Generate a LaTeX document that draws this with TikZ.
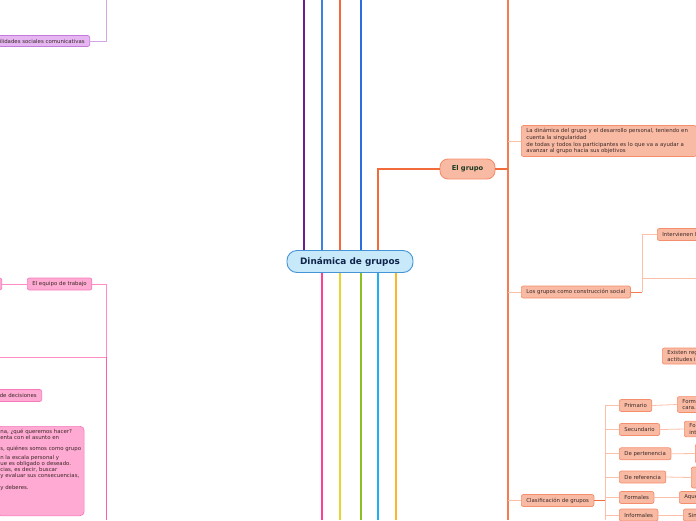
\documentclass[tikz,border=0pt]{standalone}
\usepackage{fontspec}
\setmainfont{DejaVu Sans}
\usetikzlibrary{positioning}

\definecolor{rootfill}{HTML}{C7E9FA}
\definecolor{rootline}{HTML}{4595D6}
\definecolor{roottext}{HTML}{10244A}
\definecolor{texto}{HTML}{3A2A26}
\definecolor{textogrupo}{HTML}{1E3B22}
\definecolor{naranja}{HTML}{F26B3A}
\definecolor{naranjaeje}{HTML}{F77B4F}
\definecolor{naranjafill}{HTML}{F9BAA4}
\definecolor{naranjaborde}{HTML}{F58E6C}
\definecolor{naranjaclaro}{HTML}{FCBFA8}
\definecolor{rosa}{HTML}{FF3F8F}
\definecolor{rosafill}{HTML}{FFAAD3}
\definecolor{rosaborde}{HTML}{F67ABA}
\definecolor{rosaclaro}{HTML}{FF8CC4}
\definecolor{rosamedio}{HTML}{FF5FA8}
\definecolor{morado}{HTML}{6B1E8C}
\definecolor{moradofill}{HTML}{E6B6F3}
\definecolor{moradoborde}{HTML}{C47AD8}
\definecolor{moradoclaro}{HTML}{D3A6E2}
\definecolor{azul}{HTML}{3B80E2}
\definecolor{azuloscuro}{HTML}{2C6EE0}
\definecolor{naranjarama}{HTML}{F5683A}
\definecolor{amarillo}{HTML}{E6D62C}
\definecolor{verde}{HTML}{8CC01E}
\definecolor{celeste}{HTML}{1DB0F2}
\definecolor{dorado}{HTML}{FFB52A}

\begin{document}
\begin{tikzpicture}[x=1pt, y=-1pt,
  every node/.style={font=\fontsize{5.4}{6.8}\selectfont, text=texto},
  raiz/.style={draw=rootline, fill=rootfill, line width=0.9pt, rounded corners=10pt,
    minimum width=126pt, minimum height=22pt, text=roottext,
    font=\fontsize{8.9}{10}\selectfont\bfseries},
  tema/.style={draw=naranjaborde, fill=naranjafill, line width=0.9pt, rounded corners=8pt,
    minimum width=55pt, minimum height=20pt, text=textogrupo,
    font=\fontsize{6.7}{8}\selectfont\bfseries},
  caja/.style={draw=naranjaborde, fill=naranjafill, line width=0.7pt, rounded corners=2pt,
    inner xsep=5pt, inner ysep=1.5pt, minimum height=12pt, anchor=west},
  nota/.style={caja, align=left, inner ysep=2.5pt},
  cajarosa/.style={caja, draw=rosaborde, fill=rosafill},
  cajamorada/.style={caja, draw=moradoborde, fill=moradofill, minimum height=11pt},
  rama/.style={line width=1.3pt},
  hilo/.style={line width=0.8pt, naranjaclaro},
]
  \useasboundingbox (0,0) rectangle (696,520);
  \clip (0,0) rectangle (696,520);

  % nodo central
  \node[raiz] (raiz) at (350,261.5) {Dinámica de grupos};

  % ramas que salen hacia arriba y hacia abajo
  \foreach \x/\c in {304/morado, 322/azul, 340/naranjarama, 361/azuloscuro} {
    \coordinate (arriba\x) at (\x,0);
    \draw[rama, \c] (raiz.north -| arriba\x) -- (arriba\x);
  }
  \foreach \x/\c in {322/rosa, 340/amarillo, 361/verde, 378/celeste, 396/dorado} {
    \coordinate (abajo\x) at (\x,520);
    \draw[rama, \c] (raiz.south -| abajo\x) -- (abajo\x);
  }

  % El grupo
  \coordinate (arriba378) at (378,0);
  \node[tema] (grupo) at (467.5,169) {El grupo};
  \draw[rama, naranja] (raiz.north -| arriba378) |- (grupo.west);

  \coordinate (ejeA) at (508,0);
  \coordinate (ejeB) at (508,520);
  \draw[line width=1.6pt, naranjaeje] (ejeA) -- (ejeB);
  \draw[rama, naranja] (grupo.east) -- (grupo.east -| ejeA);

  \node[nota, text width=165pt] (singular) at (521,141)
    {La dinámica del grupo y el desarrollo personal, teniendo en\\cuenta la singularidad\\de todas y todos los participantes es lo que va a ayudar a\\avanzar al grupo hacia sus objetivos};
  \draw[hilo] (singular.west -| ejeA) -- (singular.west);

  % construcción social
  \node[caja] (social) at (521,292) {Los grupos como construcción social};
  \draw[hilo] (social.west -| ejeA) -- (social.west);
  \coordinate (sj) at (642,0);
  \coordinate (fueraA) at (700,278);
  \node[caja, text width=50pt, align=left] (intervienen) at (657,234.5) {Intervienen l};
  \draw[line width=1pt, naranjaeje] (social.east) -- (social.east -| sj);
  \draw[hilo] (social.east -| sj) |- (intervienen.west);
  \draw[hilo] (social.east -| sj) |- (fueraA);

  \node[nota, anchor=north west, text width=40pt] (reglas) at (662,347.7) {Existen reg\\actitudes i};

  % clasificación
  \node[caja] (clasif) at (521,500.5) {Clasificación de grupos};
  \draw[hilo] (clasif.west -| ejeA) -- (clasif.west);
  \coordinate (cj) at (605,520);
  \draw[rama, naranja] (clasif.east) -- (clasif.east -| cj);

  \foreach \n/\y/\t in {primario/405.5/Primario, secundario/429.5/Secundario,
      pertenencia/453.8/De pertenencia, referencia/477/De referencia,
      formales/497.5/Formales, informales/515/Informales}
    \node[caja] (\n) at (619,\y) {\t};
  \draw[hilo] (primario.west -| cj) -- (cj);
  \foreach \n in {primario, secundario, pertenencia, referencia, formales, informales}
    \draw[hilo] (\n.west -| cj) -- (\n.west);

  \node[nota, text width=30pt] (forma) at (677,404.5) {Forma\\cara.};
  \node[nota, text width=30pt] (fo) at (684,429) {Fo\\int};
  \node[nota, text width=30pt, minimum height=19pt] (pert2) at (695,453.5) {};
  \node[nota, text width=30pt, minimum height=21pt] (ref2) at (691,477.5) {};
  \node[caja, text width=30pt, align=left] (aque) at (679,497.5) {Aque};
  \node[caja, text width=30pt, align=left] (sin) at (683,515) {Sin};
  \foreach \a/\b in {primario/forma, secundario/fo, pertenencia/pert2,
      referencia/ref2, formales/aque, informales/sin}
    \draw[hilo] (\a.east) -- (\b.west);

  % lado izquierdo
  \node[cajamorada, anchor=east] (habil) at (90,41) {Habilidades sociales comunicativas};
  \coordinate (pj) at (106,0);
  \draw[line width=0.8pt, moradoclaro] (habil.east) -| (pj);

  \node[cajarosa] (equipo) at (27,284) {El equipo de trabajo};
  \node[cajarosa, anchor=east, minimum width=40pt] (previo) at (2,284) {};
  \draw[line width=0.8pt, rosaclaro] (previo.east) -- (equipo.west);
  \coordinate (fueraB) at (-5,357.3);
  \coordinate (kj) at (106,520);
  \draw[line width=0.8pt, rosaclaro] (equipo.east) -| (fueraB -| kj);
  \draw[line width=0.8pt, rosaclaro] (fueraB) -- (fueraB -| kj);
  \draw[line width=0.8pt, rosamedio] (fueraB -| kj) -- (kj);

  \node[cajarosa, anchor=east] (decisiones) at (42,395.5) {Toma de decisiones};

  \node[cajarosa, anchor=north west, align=left, inner xsep=3pt, inner ysep=3pt,
    rounded corners=4pt, font=\fontsize{5.4}{6}\selectfont] (preguntas) at (-3,426)
    {na, ¿qué queremos hacer?\\enta con el asunto en\\[5pt]s, quiénes somos como grupo\\[3pt]n la escala personal y\\ue es obligado o deseado.\\cias, es decir, buscar\\y evaluar sus consecuencias,\\[6pt]y deberes.\\[17pt]\mbox{}};
\end{tikzpicture}
\end{document}
